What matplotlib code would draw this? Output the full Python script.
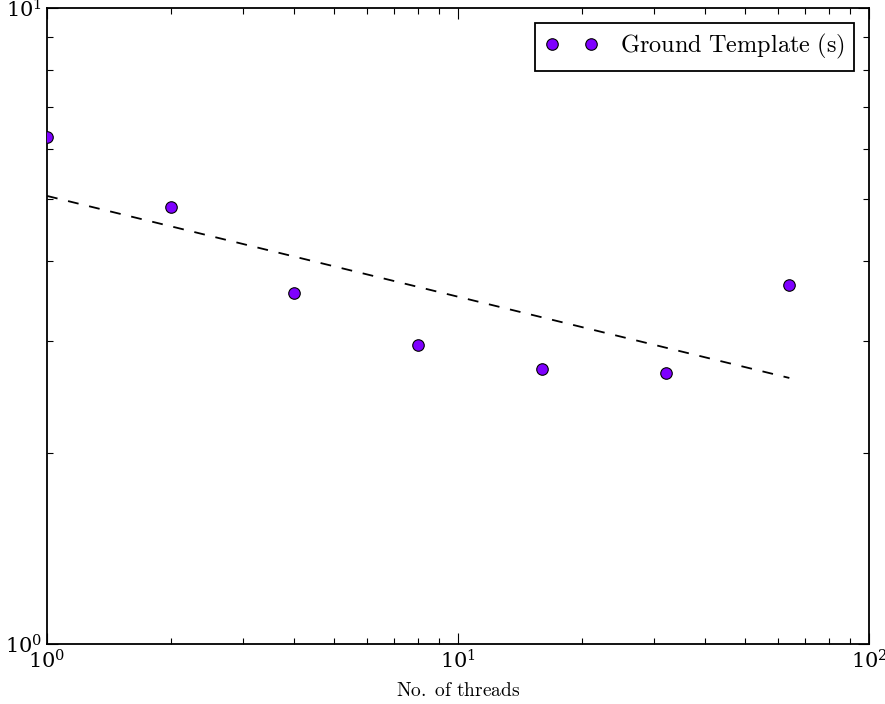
import numpy as np
import matplotlib
matplotlib.use("Agg")
import matplotlib.pyplot as plt
from matplotlib.ticker import NullFormatter

threads = [1, 2, 4, 8, 16, 32, 64]
times = [6.26, 4.86, 3.57, 2.95, 2.71, 2.67, 3.67]
label = r"$\mathrm{Ground\ Template\ (s)}$"

plt.rcParams['mathtext.fontset'] = 'cm'
plt.rcParams['font.family'] = 'DejaVu Serif'

fig = plt.figure(figsize=(8.85, 7.04), dpi=100)
ax = fig.add_axes([47 / 885, 60 / 704, 822 / 885, 636 / 704])

# power-law fit in log space
lx = np.log10(threads)
ly = np.log10(times)
slope, icpt = np.polyfit(lx, ly, 1)
fit = 10 ** (icpt + slope * lx)

ax.plot(threads, fit, linestyle=(0, (6, 6)), color='black', lw=1.3, zorder=2)
ax.plot(threads, times, 'o', color='#7f00ff', markeredgecolor='black',
        markeredgewidth=0.8, markersize=8.3, label=label, zorder=3, clip_on=True)

ax.set_xscale('log')
ax.set_yscale('log')
ax.set_xlim(1, 100)
ax.set_ylim(1, 10)
ax.xaxis.set_minor_formatter(NullFormatter())
ax.yaxis.set_minor_formatter(NullFormatter())

ax.tick_params(which='both', direction='in', top=True, right=True, labelsize=15)
ax.tick_params(which='major', length=8, width=0.8)
ax.tick_params(which='minor', length=4, width=0.8)
for s in ax.spines.values():
    s.set_linewidth(1.3)

ax.set_xlabel(r"$\mathrm{No.\ of\ threads}$", fontsize=14, labelpad=7)

leg = ax.legend(loc='upper right', numpoints=2, fontsize=17.5, fancybox=False,
                framealpha=1, edgecolor='black', borderpad=0.4,
                borderaxespad=0.6, handlelength=2.2, handletextpad=0.9)
leg.get_frame().set_linewidth(1.3)

fig.savefig('out.png', dpi=100)
